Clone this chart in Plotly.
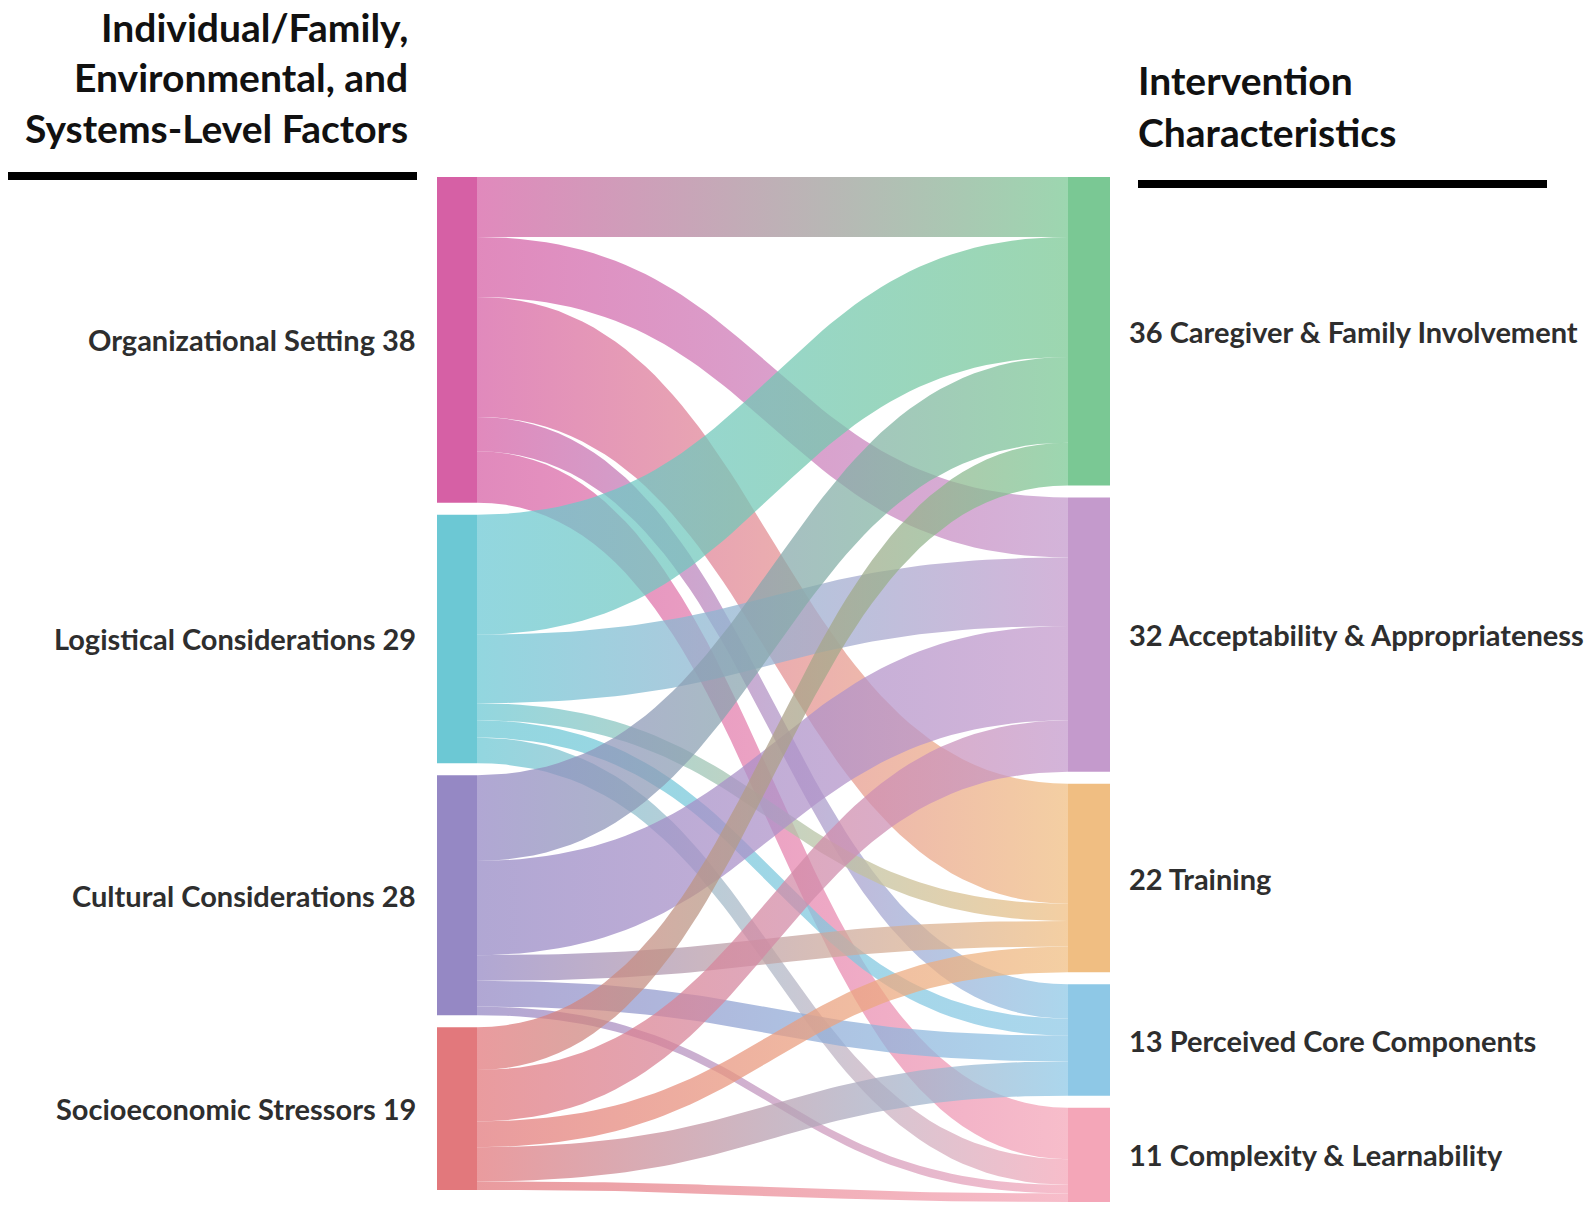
import numpy as np
import plotly.graph_objects as go

# factors (left) and intervention characteristics (right)
sources = ["Organizational Setting", "Logistical Considerations",
           "Cultural Considerations", "Socioeconomic Stressors"]
targets = ["Caregiver & Family Involvement", "Acceptability & Appropriateness",
           "Training", "Perceived Core Components", "Complexity & Learnability"]

# flows from each factor to each characteristic, in target order
org_flows = [7, 7, 14, 4, 6]
log_flows = [14, 8, 2, 2, 3]
cult_flows = [10, 11, 3, 3, 1]
socio_flows = [5, 6, 3, 4, 1]

source_colors = ["#d660a5", "#6cc8d4", "#9588c4", "#e2787c"]
target_colors = ["#7ac894", "#c49acc", "#f0be82", "#8ec8e6", "#f4a6b8"]

flows = np.array([org_flows, log_flows, cult_flows, socio_flows])

# layout in pixels
W, H = 1595, 1212
TOP = 177
KY = 8.57      # px per unit
PAD = 12
LX0, LX1 = 437, 477
RX0, RX1 = 1068, 1110
ALPHA = 0.74


def rgba(hex_col, a):
    h = hex_col.lstrip("#")
    r, g, b = int(h[0:2], 16), int(h[2:4], 16), int(h[4:6], 16)
    return f"rgba({r},{g},{b},{a})"


def stack(totals):
    tops, y = [], TOP
    for t in totals:
        tops.append(y)
        y += t * KY + PAD
    return tops


src_tot = flows.sum(axis=1)
tgt_tot = flows.sum(axis=0)
src_top = stack(src_tot)
tgt_top = stack(tgt_tot)

fig = go.Figure()

t = np.linspace(0, 1, 60)
xm = (LX1 + RX0) / 2
bx = (1 - t) ** 3 * LX1 + 3 * (1 - t) ** 2 * t * xm + 3 * (1 - t) * t ** 2 * xm + t ** 3 * RX0


def by(y0, y1):
    return (1 - t) ** 3 * y0 + 3 * (1 - t) ** 2 * t * y0 + 3 * (1 - t) * t ** 2 * y1 + t ** 3 * y1


# links: stacked by target order at the source, by source order at the target
for i in range(len(sources)):
    for j in range(len(targets)):
        v = flows[i, j]
        s0 = src_top[i] + flows[i, :j].sum() * KY
        d0 = tgt_top[j] + flows[:i, j].sum() * KY
        h = v * KY
        top = by(s0, d0)
        bot = by(s0 + h, d0 + h)
        fig.add_trace(go.Scatter(
            x=np.concatenate([bx, bx[::-1]]),
            y=np.concatenate([top, bot[::-1]]),
            mode="lines", line=dict(width=0), fill="toself",
            fillgradient=dict(type="horizontal",
                              colorscale=[[0, rgba(source_colors[i], ALPHA)],
                                          [1, rgba(target_colors[j], ALPHA)]]),
            hoveron="fills", hoverinfo="text",
            text=f"{sources[i]} → {targets[j]}: {v}",
            showlegend=False,
        ))


# nodes
def node(x0, x1, y0, y1, col, txt):
    fig.add_trace(go.Scatter(
        x=[x0, x1, x1, x0, x0], y=[y0, y0, y1, y1, y0],
        mode="lines", line=dict(width=0), fill="toself", fillcolor=col,
        hoveron="fills", hoverinfo="text", text=txt, showlegend=False,
    ))


label_font = dict(family="Lato", size=29, color="#2e2e2e", weight="bold")
for k, name in enumerate(sources):
    y0, y1 = src_top[k], src_top[k] + src_tot[k] * KY
    node(LX0, LX1, y0, y1, source_colors[k], f"{name}: {src_tot[k]}")
    fig.add_annotation(x=LX0 - 19, y=(y0 + y1) / 2, text=f"{name} {src_tot[k]}",
                       xanchor="right", yanchor="middle", showarrow=False,
                       font=label_font)
for k, name in enumerate(targets):
    y0, y1 = tgt_top[k], tgt_top[k] + tgt_tot[k] * KY
    node(RX0, RX1, y0, y1, target_colors[k], f"{name}: {tgt_tot[k]}")
    fig.add_annotation(x=RX1 + 17, y=(y0 + y1) / 2, text=f"{tgt_tot[k]} {name}",
                       xanchor="left", yanchor="middle", showarrow=False,
                       font=label_font)

# column headings
title_font = dict(family="Lato", size=39, color="#111111", weight="bold")
for line, yc in zip(["Individual/Family,", "Environmental, and", "Systems-Level Factors"],
                    [27, 77, 128]):
    fig.add_annotation(x=410, y=yc, text=line, xanchor="right", yanchor="middle",
                       showarrow=False, font=title_font)
for line, yc in zip(["Intervention", "Characteristics"], [80, 132]):
    fig.add_annotation(x=1136, y=yc, text=line, xanchor="left", yanchor="middle",
                       showarrow=False, font=title_font)

fig.add_shape(type="line", x0=8, x1=417, y0=176, y1=176, line=dict(color="black", width=8))
fig.add_shape(type="line", x0=1138, x1=1547, y0=184, y1=184, line=dict(color="black", width=8))

fig.update_layout(
    width=W, height=H,
    margin=dict(l=0, r=0, t=0, b=0),
    paper_bgcolor="white", plot_bgcolor="white",
    xaxis=dict(range=[0, W], visible=False, fixedrange=True),
    yaxis=dict(range=[H, 0], visible=False, fixedrange=True),
    hovermode="closest",
)

fig.write_html("out.html", config={"displayModeBar": False},
               post_script="document.body.style.margin='0';")
